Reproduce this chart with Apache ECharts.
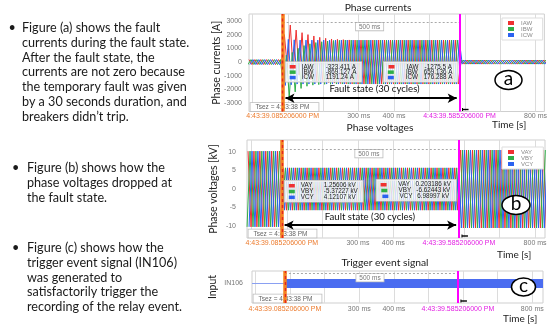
<!DOCTYPE html>
<html><head><meta charset="utf-8">
<script src="https://cdn.jsdelivr.net/npm/echarts@6/dist/echarts.min.js"></script>
<style>html,body{margin:0;padding:0;background:#fff}#c{width:550px;height:328px}</style>
</head><body><div id="c"></div>
<script>
// ---------- data ----------
const HALF = 1000 / 120;                 // ms between successive half-cycle peaks (60 Hz)
const phaseStart = [-10, -12.78, -7.22];  // ms of first peak sample for phases A, B, C
const cursorTimes = [85.2, 585.2];        // ms
const cursorStamps = ['4:43:39.085206000 PM', '4:43:39.585206000 PM'];
const msTicks = [300, 400, 800];
const gridTicks = [0, 100, 200, 300, 400, 500, 600, 700, 800];
const currentTicks = [-3000, -2000, -1000, 0, 1000, 2000, 3000];
const voltageTicks = [-10, -5, 0, 5, 10];
const triggerTime = '4:43:38 PM';

const currentNames = ['IAW', 'IBW', 'ICW'];
const voltageNames = ['VAY', 'VBY', 'VCY'];
const cursor1Currents = [-323.411, -869.127, 1191.24];
const cursor2Currents = [-1275.5, 659.136, 176.288];
const cursor1Voltages = [1.25606, -5.37227, 4.12107];
const cursor2Voltages = [0.203186, -6.62443, 6.98997];

// phase currents (A), half-cycle peak values
const IAW = [
  180,-180,180,-180,180,-180,180,-180,180,-180,180,-180,
  2000,-400,2700,-650,2330,-950,2140,-1150,2000,-1280,1900,-1370,
  1800,-1440,1730,-1490,1680,-1530,1650,-1560,1630,-1580,1610,-1590,
  1600,-1600,1600,-1600,1600,-1600,1600,-1600,1600,-1600,1600,-1600,
  1600,-1600,1600,-1600,1600,-1600,1600,-1600,1600,-1600,1600,-1600,
  1600,-1600,1600,-1600,1600,-1600,1600,-1600,1600,-1600,1600,-1600,
  150,-150,150,-150,150,-150,150,-150,150,-150,150,-150,
  150,-150,150,-150,150,-150,150,-150,150,-150,150,-150,
  150,-150,150,-150,150,-150
];
const IBW = [
  -180,180,-180,180,-180,180,-180,180,-180,180,-180,180,
  -1800,500,-2530,700,-2170,1000,-1920,1200,-1760,1330,-1680,1420,
  -1640,1480,-1620,1530,-1610,1570,-1600,1590,
  -1600,1600,-1600,1600,-1600,1600,-1600,1600,-1600,1600,-1600,1600,
  -1600,1600,-1600,1600,-1600,1600,-1600,1600,-1600,1600,-1600,1600,
  -1600,1600,-1600,1600,-1600,1600,-1600,1600,-1600,1600,-1600,1600,
  -1600,1600,-1600,1600,
  -150,150,-150,150,-150,150,-150,150,-150,150,-150,150,
  -150,150,-150,150,-150,150,-150,150,-150,150,-150,150,
  -150,150,-150,150,-150,150
];
const ICW = [
  -180,180,-180,180,-180,180,-180,180,-180,180,-180,180,
  -1700,1650,-1650,1620,-1600,1600,-1600,1600,-1600,1600,-1600,1600,
  -1600,1600,-1600,1600,-1600,1600,-1600,1600,-1600,1600,-1600,1600,
  -1600,1600,-1600,1600,-1600,1600,-1600,1600,-1600,1600,-1600,1600,
  -1600,1600,-1600,1600,-1600,1600,-1600,1600,-1600,1600,-1600,1600,
  -1600,1600,-1600,1600,-1600,1600,-1600,1600,-1600,1600,-1600,1600,
  -150,150,-150,150,-150,150,-150,150,-150,150,-150,150,
  -150,150,-150,150,-150,150,-150,150,-150,150,-150,150,
  -150,150,-150,150,-150,150
];
// phase voltages (kV), half-cycle peak values
const VAY = [
  10.2,-10.2,10.2,-10.2,10.2,-10.2,10.2,-10.2,10.2,-10.2,10.2,-10.2,
  5.7,-5.7,5.7,-5.7,5.7,-5.7,5.7,-5.7,5.7,-5.7,5.7,-5.7,
  5.7,-5.7,5.7,-5.7,5.7,-5.7,5.7,-5.7,5.7,-5.7,5.7,-5.7,
  5.7,-5.7,5.7,-5.7,5.7,-5.7,5.7,-5.7,5.7,-5.7,5.7,-5.7,
  5.7,-5.7,5.7,-5.7,5.7,-5.7,5.7,-5.7,5.7,-5.7,5.7,-5.7,
  5.7,-5.7,5.7,-5.7,5.7,-5.7,5.7,-5.7,5.7,-5.7,5.7,-5.7,
  10.5,-10.5,10.5,-10.5,10.5,-10.5,10.5,-10.5,10.5,-10.5,10.5,-10.5,
  10.5,-10.5,10.5,-10.5,10.5,-10.5,10.5,-10.5,10.5,-10.5,10.5,-10.5,
  10.5,-10.5,10.5,-10.5,10.5,-10.5
];
const VBY = [
  -10.2,10.2,-10.2,10.2,-10.2,10.2,-10.2,10.2,-10.2,10.2,-10.2,10.2,
  -5.7,5.7,-5.7,5.7,-5.7,5.7,-5.7,5.7,-5.7,5.7,-5.7,5.7,
  -5.7,5.7,-5.7,5.7,-5.7,5.7,-5.7,5.7,-5.7,5.7,-5.7,5.7,
  -5.7,5.7,-5.7,5.7,-5.7,5.7,-5.7,5.7,-5.7,5.7,-5.7,5.7,
  -5.7,5.7,-5.7,5.7,-5.7,5.7,-5.7,5.7,-5.7,5.7,-5.7,5.7,
  -5.7,5.7,-5.7,5.7,-5.7,5.7,-5.7,5.7,-5.7,5.7,-5.7,5.7,
  -10.5,10.5,-10.5,10.5,-10.5,10.5,-10.5,10.5,-10.5,10.5,-10.5,10.5,
  -10.5,10.5,-10.5,10.5,-10.5,10.5,-10.5,10.5,-10.5,10.5,-10.5,10.5,
  -10.5,10.5,-10.5,10.5,-10.5,10.5
];
const VCY = [
  -10.2,10.2,-10.2,10.2,-10.2,10.2,-10.2,10.2,-10.2,10.2,-10.2,10.2,
  -5.7,5.7,-5.7,5.7,-5.7,5.7,-5.7,5.7,-5.7,5.7,-5.7,5.7,
  -5.7,5.7,-5.7,5.7,-5.7,5.7,-5.7,5.7,-5.7,5.7,-5.7,5.7,
  -5.7,5.7,-5.7,5.7,-5.7,5.7,-5.7,5.7,-5.7,5.7,-5.7,5.7,
  -5.7,5.7,-5.7,5.7,-5.7,5.7,-5.7,5.7,-5.7,5.7,-5.7,5.7,
  -5.7,5.7,-5.7,5.7,-5.7,5.7,-5.7,5.7,-5.7,5.7,-5.7,5.7,
  -10.5,10.5,-10.5,10.5,-10.5,10.5,-10.5,10.5,-10.5,10.5,-10.5,10.5,
  -10.5,10.5,-10.5,10.5,-10.5,10.5,-10.5,10.5,-10.5,10.5,-10.5,10.5,
  -10.5,10.5,-10.5,10.5,-10.5,10.5
];
// trigger input IN106: times (ms) of segment ends, and state in each segment
const in106Times = [-10, 85.2, 831];
const in106State = [0, 1];

// ---------- chart ----------
const RED = '#ee3131', GREEN = '#2fae47', BLUE = '#2b62f0';
const PHASE_COLORS = [RED, GREEN, BLUE];
const FONT = 'Lato, "Liberation Sans", sans-serif';
const SMALL = '"Liberation Sans", Arial, sans-serif';
const xRanges = [[-10, 825], [-13, 828], [-10, 831]];
const yRanges = [[-3600, 3500], [-13.2, 13.2], [-1.56, 1]];
const grids = [
  {left: 249, top: 14, width: 296, height: 97.5},
  {left: 247, top: 140, width: 298, height: 98},
  {left: 252, top: 271, width: 291, height: 32}
];
const labelMargins = [1, 1.5, 2.5];

const chart = echarts.init(document.getElementById('c'), null, {renderer: 'canvas', width: 550, height: 328});

function near(a, b) { return Math.abs(a - b) < 0.01; }

const xAxes = grids.map((g, i) => ({
  type: 'value', gridIndex: i, min: xRanges[i][0], max: xRanges[i][1],
  axisLine: {show: false},
  axisTick: {show: false, customValues: gridTicks},
  splitLine: {show: true, lineStyle: {color: '#dcdcdc', width: 1}},
  axisLabel: {
    customValues: [cursorTimes[0], ...msTicks, cursorTimes[1]],
    fontSize: 7, color: '#777', fontFamily: SMALL, margin: labelMargins[i],
    formatter: v => near(v, cursorTimes[0]) ? '{o|' + cursorStamps[0] + '}'
      : near(v, cursorTimes[1]) ? '{m|' + cursorStamps[1] + '}' : v + ' ms',
    rich: {
      o: {color: '#ec7a2c', fontSize: 7, fontFamily: SMALL},
      m: {color: '#e21ee2', fontSize: 7, fontFamily: SMALL}
    }
  }
}));

const yNames = ['Phase currents [A]', 'Phase voltages [kV]', 'Input'];
const yTicks = [currentTicks, voltageTicks, [0]];
const yGaps = [27, 28, 34];
const yAxes = grids.map((g, i) => ({
  type: 'value', gridIndex: i, min: yRanges[i][0], max: yRanges[i][1],
  axisLine: {show: false},
  axisTick: {show: false, customValues: yTicks[i]},
  splitLine: {show: false},
  axisLabel: {
    customValues: yTicks[i], fontSize: 7, color: '#777', fontFamily: SMALL,
    margin: [7, 11, 9][i],
    formatter: v => i === 2 ? 'IN106' : String(v)
  },
  name: yNames[i], nameLocation: 'middle', nameRotate: 90, nameGap: yGaps[i],
  nameMoveOverlap: false,
  nameTextStyle: {fontSize: 10.5, color: '#222', fontFamily: FONT}
}));

function wave(name, vals, start, color, g) {
  return {
    type: 'line', name, xAxisIndex: g, yAxisIndex: g,
    data: vals.map((v, i) => [start + i * HALF, v]),
    symbol: 'none', showSymbol: false, lineStyle: {color, width: 1}, itemStyle: {color},
    animation: false, silent: true, z: 2
  };
}

const series = [];
[IAW, IBW, ICW].forEach((v, k) => series.push(wave(currentNames[k], v, phaseStart[k], PHASE_COLORS[k], 0)));
[VAY, VBY, VCY].forEach((v, k) => series.push(wave(voltageNames[k], v, phaseStart[k], PHASE_COLORS[k], 1)));
in106State.forEach((s, k) => series.push({
  type: 'line', name: 'IN106_' + k, xAxisIndex: 2, yAxisIndex: 2,
  data: [[in106Times[k], 0], [in106Times[k + 1], 0]],
  symbol: 'none', showSymbol: false, animation: false, silent: true, z: 2,
  lineStyle: {color: s ? '#4a6cf0' : '#8aa0f2', width: s ? 9 : 1.2}
}));

const measureY = [2930, 10.8, 0.84];
grids.forEach((g, i) => {
  series.push({
    type: 'line', xAxisIndex: i, yAxisIndex: i, data: [], z: 5, silent: true, animation: false,
    markLine: {
      symbol: 'none', silent: true, animation: false, label: {show: false},
      data: [
        [{coord: [cursorTimes[0], measureY[i]], lineStyle: {color: '#a8a8a8', width: 1, type: [2, 2]}},
         {coord: [cursorTimes[1], measureY[i]]}],
        {xAxis: cursorTimes[0], lineStyle: {color: '#f5821f', width: 3.5, type: 'solid'}},
        {xAxis: cursorTimes[0], lineStyle: {color: '#e52521', width: 1.4, type: [3, 3]}},
        {xAxis: cursorTimes[1], lineStyle: {color: '#ff00ff', width: 2, type: 'solid'}}
      ]
    }
  });
});
const arrowY = [-2634, -9.73];
arrowY.forEach((y, i) => {
  series.push({
    type: 'line', xAxisIndex: i, yAxisIndex: i, data: [], z: 6, silent: true, animation: false,
    markLine: {
      symbol: ['arrow', 'arrow'], symbolSize: [7, 9], silent: true, animation: false, label: {show: false},
      lineStyle: {color: '#000', width: 1.8, type: 'solid'},
      data: [[{coord: [cursorTimes[0] + 8, y]}, {coord: [cursorTimes[1] - 8, y]}]]
    }
  });
});

const legendTops = [18, 147];
const legends = [currentNames, voltageNames].map((names, i) => ({
  data: names, orient: 'vertical', left: 502, top: legendTops[i],
  itemWidth: 6, itemHeight: 4, itemGap: 0, icon: 'rect', selectedMode: false,
  textStyle: {fontSize: 6, color: '#888', fontFamily: SMALL, padding: [0, 0, 0, 2]},
  backgroundColor: '#fff', borderColor: '#ddd', borderWidth: 1, padding: [2, 10, 2, 6]
}));

chart.setOption({
  animation: false,
  backgroundColor: '#fff',
  grid: grids.map(g => Object.assign({show: true, borderColor: '#cfcfcf', borderWidth: 1, backgroundColor: '#fff'}, g)),
  xAxis: xAxes, yAxis: yAxes, legend: legends, series
});

// ---------- annotations positioned through the axes ----------
const P = (g, x, y) => chart.convertToPixel({gridIndex: g}, [x, y]);
const els = [];
function txt(x, y, text, o) {
  els.push({type: 'text', x, y, z: o.z || 10, silent: true,
    style: Object.assign({text, font: o.font, fill: o.fill || '#222', align: o.align || 'left', verticalAlign: o.va || 'middle'}, o.style || {})});
}

// left bullet text
const bulletBlocks = [
  {bx: 8.5, tx: 22, y0: 28.3, lines: ['Figure (a) shows the fault', 'currents during the fault state.', 'After the fault state, the',
    'currents are not zero because', 'the temporary fault was given', 'by a 30 seconds duration, and', 'breakers didn\u2019t trip.']},
  {bx: 12, tx: 27, y0: 168.3, lines: ['Figure (b) shows how the', 'phase voltages dropped at', 'the fault state.']},
  {bx: 12, tx: 27, y0: 248.3, lines: ['Figure (c) shows how the', 'trigger event signal (IN106)', 'was generated to',
    'satisfactorily trigger the', 'recording of the relay event.']}
];
bulletBlocks.forEach(b => {
  txt(b.bx, b.y0, '\u2022', {font: '12.6px ' + FONT, fill: '#1a1a1a'});
  b.lines.forEach((l, k) => txt(b.tx, b.y0 + k * 14.7, l, {font: '12.6px ' + FONT, fill: '#1a1a1a'}));
});

// titles and time-axis names
txt(378, 8, 'Phase currents', {font: '10.3px ' + FONT, align: 'center'});
txt(380, 128, 'Phase voltages', {font: '10.3px ' + FONT, align: 'center'});
txt(385, 263, 'Trigger event signal', {font: '10.3px ' + FONT, align: 'center'});
txt(492, 125, 'Time [s]', {font: '10px ' + FONT});
txt(497, 255, 'Time [s]', {font: '10px ' + FONT});
txt(503, 319, 'Time [s]', {font: '10px ' + FONT});

// per-grid annotations
grids.forEach((g, i) => {
  const left = g.left, bottom = g.top + g.height;
  const xm = P(i, cursorTimes[1], 0)[0];
  // Tsez box
  txt(left + 1.5, bottom - 0.5, 'Tsez = ' + triggerTime, {font: '6.5px ' + SMALL, fill: '#666', va: 'bottom', z: 3,
    style: {backgroundColor: '#fff', borderColor: '#bdbdbd', borderWidth: 0.8, padding: [1, 9, 0, 5]}});
  // 500 ms box
  const mY = P(i, 0, measureY[i])[1];
  txt(P(i, 331, 0)[0], mY + 1, Math.round(cursorTimes[1] - cursorTimes[0]) + ' ms',
    {font: '6.5px ' + SMALL, fill: '#777', align: 'center', va: 'top', z: 4,
     style: {backgroundColor: '#fff', borderColor: '#bdbdbd', borderWidth: 0.8, padding: [0.5, 3, 0, 3]}});
  // small marker after the magenta cursor
  els.push({type: 'line', z: 10, silent: true, shape: {x1: xm + 3, y1: bottom - 2, x2: xm + 9, y2: bottom - 2}, style: {stroke: '#000', lineWidth: 1.4}});
  els.push({type: 'line', z: 10, silent: true, shape: {x1: xm + 3, y1: bottom - 3.5, x2: xm + 3, y2: bottom - 0.5}, style: {stroke: '#000', lineWidth: 1}});
});

// cursor read-outs
function readout(names, vals, unit) {
  return names.map((n, k) => `{s${k}|}{n|${n}}{v|${vals[k]} ${unit}}`).join('\n');
}
function makeRich(nw, lh) {
  return {
    s0: {backgroundColor: RED, width: 6, height: 3.5},
    s1: {backgroundColor: GREEN, width: 6, height: 3.5},
    s2: {backgroundColor: BLUE, width: 6, height: 3.5},
    n: {fontSize: 6.3, fontFamily: SMALL, color: '#555', width: nw, align: 'left', padding: [0, 0, 0, 6], lineHeight: lh},
    v: {fontSize: 6.3, fontFamily: SMALL, color: '#555', align: 'left', lineHeight: lh}
  };
}
const richA = makeRich(24, 5.4), richB = makeRich(23, 5.8);
const boxStyle = (r) => ({rich: r, backgroundColor: 'rgba(255,255,255,0.78)', borderColor: '#c4c4c4', borderWidth: 0.8, padding: [2, 5, 1.5, 4]});
{
  const xo = P(0, cursorTimes[0], 0)[0], xm = P(0, cursorTimes[1], 0)[0], y0 = P(0, 0, 0)[1];
  txt(xo + 3, y0, readout(currentNames, cursor1Currents, 'A'), {font: '6.3px ' + SMALL, va: 'top', z: 4, style: boxStyle(richA)});
  txt(xm - 2, y0, readout(currentNames, cursor2Currents, 'A'), {font: '6.3px ' + SMALL, va: 'top', align: 'right', z: 4, style: boxStyle(richA)});
  const xo1 = P(1, cursorTimes[0], 0)[0], xm1 = P(1, cursorTimes[1], 0)[0], y1 = P(1, 0, 2.2)[1];
  txt(xo1 + 3, y1, readout(voltageNames, cursor1Voltages, 'kV'), {font: '6.3px ' + SMALL, va: 'top', z: 4, style: boxStyle(richB)});
  txt(xm1 - 3, y1 - 1, readout(voltageNames, cursor2Voltages, 'kV'), {font: '6.3px ' + SMALL, va: 'top', align: 'right', z: 4, style: boxStyle(richB)});
}

// fault state labels
[[0, 345, -1980], [1, 334, -7.6]].forEach(([g, x, y]) => {
  const p = P(g, x, y);
  txt(p[0], p[1], 'Fault state (30 cycles)', {font: '9.6px ' + FONT, fill: '#111', align: 'center', z: 7});
});

// figure letters
[['a', 508.5, 80, 13.5, 9.5], ['b', 516, 205, 14, 9.5], ['c', 523.5, 287, 12, 9]].forEach(([t, cx, cy, rx, ry]) => {
  els.push({type: 'ellipse', z: 8, silent: true, shape: {cx, cy, rx, ry}, style: {fill: '#fff', stroke: '#000', lineWidth: 1.5}});
  txt(cx, cy - 1, t, {font: '19px ' + FONT, fill: '#000', align: 'center', z: 9});
});

chart.setOption({graphic: {elements: els}});
</script></body></html>
